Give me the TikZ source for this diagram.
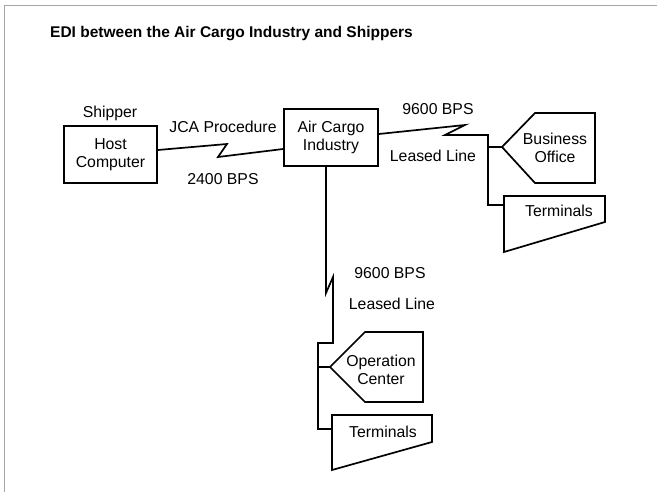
\documentclass[tikz,border=0pt]{standalone}
\usepackage{fontspec}
\setmainfont{Liberation Sans}
\usetikzlibrary{calc}
\begin{document}
\begin{tikzpicture}[x=1pt,y=-1pt,
  txt/.style={font=\fontsize{15.8}{18.5}\selectfont, align=center, inner sep=0pt},
  box/.style={txt, draw, line width=1.7pt},
  wire/.style={line width=1.7pt, line join=miter},
  outline/.style={line width=1.7pt, line join=miter}]
\useasboundingbox (0,0) rectangle (661,492);
% outer frame (partial, faint)
\draw[gray!70, line width=0.8pt] (4,492) -- (4,5) -- (657,5);
% title
\node[anchor=west, inner sep=0pt, font=\bfseries\fontsize{15.5}{19}\selectfont] (title) at (50,34) {EDI between the Air Cargo Industry and Shippers};
% boxes
\node[box, minimum width=93pt, minimum height=57pt] (host) at (110.5,154.5) {Host\\Computer};
\node[box, minimum width=94pt, minimum height=57pt] (air) at (331,137.5) {Air Cargo\\Industry};
\node[txt] (shipper) at (110,113) {Shipper};
% business office
\node[txt] (bo) at (555,148) {Business\\Office};
\draw[outline] (502,147) coordinate (botip) -- (535,113) -- (595,113) -- (595,183) -- (535,183) -- cycle;
% terminals right
\node[txt] (t1) at (559,211) {Terminals};
\draw[outline] (504,196) -- (605,196) -- (605,222) -- (504,252) -- cycle;
\coordinate (t1in) at (504,205);
% operation center
\node[txt] (oc) at (381,370) {Operation\\Center};
\draw[outline] (330,367) coordinate (octip) -- (365,332) -- (423,332) -- (423,402) -- (365,402) -- cycle;
% terminals bottom
\node[txt] (t2) at (383,432) {Terminals};
\draw[outline] (332,415) -- (432,415) -- (432,442) -- (332,470) -- cycle;
\coordinate (t2in) at (332,429);
% labels
\node[txt] (jca) at (223,127) {JCA Procedure};
\node[txt] (bps1) at (223,179) {2400 BPS};
\node[txt] (bps2) at (438,109) {9600 BPS};
\node[txt] (ll1) at (433,156) {Leased Line};
\node[txt] (bps3) at (390,273) {9600 BPS};
\node[txt] (ll2) at (392,304) {Leased Line};
% connectors
\draw[wire] ($(host.east)+(0,-4.5)$) -- (227,144) -- (218,157) -- ($(air.west)+(0,11.5)$);
\draw[wire] ($(air.east)+(0,-3.5)$) -- (465,125) -- (445,135) -- (488,135) -- (488,205) -- (t1in);
\draw[wire] (488,147) -- (botip);
\draw[wire] ($(air.south)+(-5,0)$) -- (326,293) -- (333,277) -- (333,343) -- (318,343) -- (318,429) -- (t2in);
\draw[wire] (318,367) -- (octip);
\end{tikzpicture}
\end{document}
